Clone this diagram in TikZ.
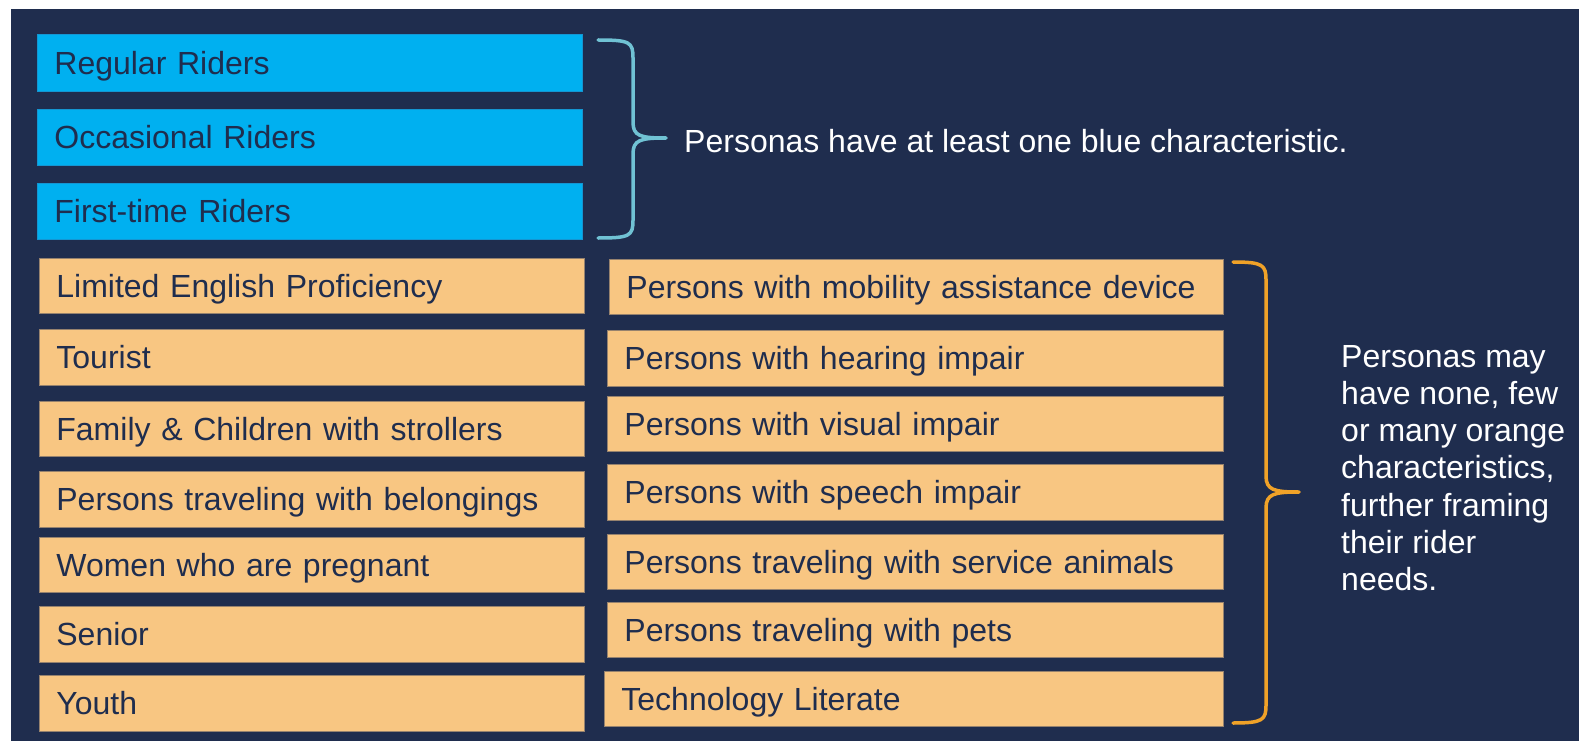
\documentclass[tikz,border=0pt]{standalone}
\usepackage{fontspec}
\setmainfont{Liberation Sans}
\definecolor{navy}{RGB}{31,45,78}
\definecolor{cblue}{RGB}{0,176,240}
\definecolor{cblueb}{RGB}{20,150,210}
\definecolor{corange}{RGB}{248,198,130}
\definecolor{corangeb}{RGB}{150,130,110}
\definecolor{bracblue}{RGB}{112,194,212}
\definecolor{bracor}{RGB}{240,162,40}
\tikzset{
  box/.style={anchor=north west, line width=0.8pt, inner xsep=17pt, inner ysep=0pt,
    text height=23pt, text depth=0pt,
    font=\fontsize{32}{37}\selectfont, text=navy, align=left},
  bluebox/.style={box, fill=cblue, draw=cblueb},
  orbox/.style={box, fill=corange, draw=corangeb},
  note/.style={anchor=west, inner sep=0pt, text=white, font=\fontsize{32}{37.2}\selectfont, align=left},
  brace/.style={line width=3.5pt, line cap=round, line join=round}
}
\begin{document}
\begin{tikzpicture}[x=1pt,y=-1pt]
\useasboundingbox (0,0) rectangle (1579,741);
\fill[white] (0,0) rectangle (1579,741);
\fill[navy] (11,9) rectangle (1579,741);
% blue boxes
\node[bluebox, text width=511pt, minimum height=57pt] (b1) at (37,34) {Regular Riders};
\node[bluebox, text width=511pt, minimum height=56pt] (b2) at (37,109) {Occasional Riders};
\node[bluebox, text width=511pt, minimum height=56pt] (b3) at (37,183) {First-time Riders};
% left orange column
\node[orbox, text width=511pt, minimum height=55pt] (l1) at (39,258) {Limited English Proficiency};
\node[orbox, text width=511pt, minimum height=56pt] (l2) at (39,329) {Tourist};
\node[orbox, text width=511pt, minimum height=55pt] (l3) at (39,401) {Family \& Children with strollers};
\node[orbox, text width=511pt, minimum height=56pt] (l4) at (39,471) {Persons traveling with belongings};
\node[orbox, text width=511pt, minimum height=55pt] (l5) at (39,537) {Women who are pregnant};
\node[orbox, text width=511pt, minimum height=56pt] (l6) at (39,606) {Senior};
\node[orbox, text width=511pt, minimum height=56pt] (l7) at (39,675) {Youth};
% right orange column
\node[orbox, text width=580pt, minimum height=55pt] (r1) at (609,259) {Persons with mobility assistance device};
\node[orbox, text width=582pt, minimum height=56pt] (r2) at (607,330) {Persons with hearing impair};
\node[orbox, text width=582pt, minimum height=55pt] (r3) at (607,396) {Persons with visual impair};
\node[orbox, text width=582pt, minimum height=56pt] (r4) at (607,464) {Persons with speech impair};
\node[orbox, text width=582pt, minimum height=55pt] (r5) at (607,534) {Persons traveling with service animals};
\node[orbox, text width=582pt, minimum height=55pt] (r6) at (607,602) {Persons traveling with pets};
\node[orbox, text width=585pt, minimum height=55pt] (r7) at (604,671) {Technology Literate};
% blue brace
\coordinate (bt) at (598,40);
\coordinate (bb) at (598,238);
\coordinate (btip) at (666,138);
\draw[brace, bracblue] (bt) .. controls (630,40) and (633,42) .. (633,58)
  -- (633,122) .. controls (633,136) and (640,138) .. (btip)
  (btip) .. controls (640,138) and (633,140) .. (633,154)
  -- (633,220) .. controls (633,236) and (630,238) .. (bb);
\node[note] (bnote) at (684,141) {Personas have at least one blue characteristic.};
% orange brace
\coordinate (ot) at (1233,262);
\coordinate (ob) at (1233,723);
\coordinate (otip) at (1299,492);
\draw[brace, bracor] (ot) .. controls (1263,262) and (1266,265) .. (1266,280)
  -- (1266,476) .. controls (1266,490) and (1274,492) .. (otip)
  (otip) .. controls (1274,492) and (1266,494) .. (1266,508)
  -- (1266,705) .. controls (1266,720) and (1263,723) .. (ob);
\node[note, anchor=north west] (onote) at (1341,345) {Personas may\\have none, few\\or many orange\\characteristics,\\further framing\\their rider\\needs.};
\end{tikzpicture}
\end{document}
